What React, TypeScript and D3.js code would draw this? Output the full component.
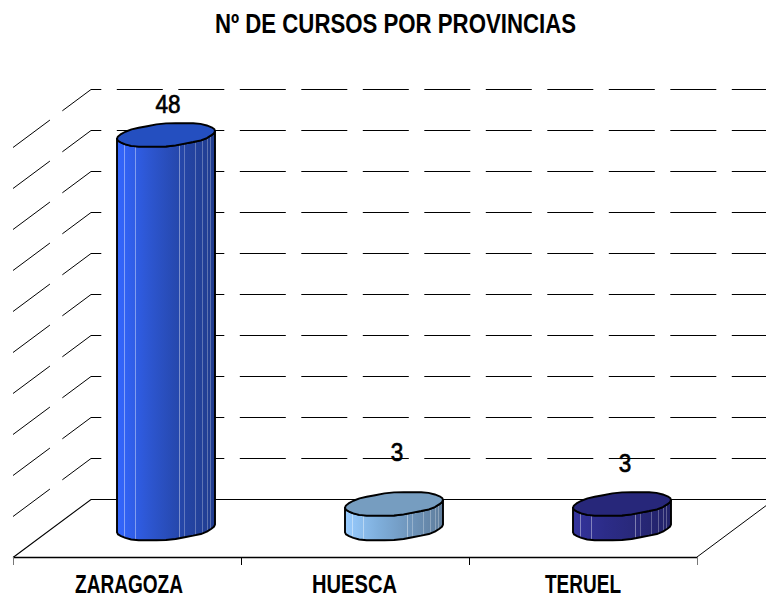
import React from "react";
import * as d3 from "d3";

const categories = ["ZARAGOZA", "HUESCA", "TERUEL"];
const values = [48, 3, 3];
const gridTicks = [0, 5, 10, 15, 20, 25, 30, 35, 40, 45, 50];
const title = "Nº DE CURSOS POR PROVINCIAS";
const sideColors = [
  ["#3366ff", "#2d56d0", "#2546a8", "#203c8e"],
  ["#99ccff", "#7fafdc", "#6f95bb", "#5f7d9c"],
  ["#34349c", "#2c2c88", "#282878", "#222268"],
];
const topColors = ["#244fc0", "#769dc0", "#27277a"];
const valueLabelPos = [{ dx: 2, base: 113 }, { dx: 3, base: 461 }, { dx: 3, base: 472 }];
const catLabelPos = [{ x: 129, w: 108 }, { x: 354.5, w: 85 }, { x: 583, w: 76 }];
const facetLines = [0.07, 0.18, 0.63, 0.68, 0.795, 0.865, 0.915, 0.95];
const wobble = [0, 0.004, 0.012, 0.004, -0.008, -0.004, 0.01, 0.006, -0.008, -0.006, 0.01, 0.004, -0.01, -0.004, 0.008, 0.004,
  0, -0.004, -0.012, -0.004, 0.008, 0.004, -0.01, -0.006, 0.008, 0.006, -0.01, -0.004, 0.01, 0.004, -0.008, -0.004];

const W = 766, H = 598;
const font = "'Liberation Sans', Arial, sans-serif";
const frontY = 557, depthX = 78, depthY = 58;
const x = d3.scaleBand<string>().domain(categories).range([13, 697]);
const y = d3.scaleLinear().domain([0, 50]).range([499.5, 89.5]);
const line = d3.line<[number, number]>();
const E = 49, S = 16, D = 12, R = Math.sqrt(E * E - S * S), t0 = Math.atan2(S, R), N = wobble.length;

function rim(cx: number, cy: number): [number, number][] {
  return wobble.map((w, i) => {
    const t = t0 + (i * 2 * Math.PI) / N;
    return [cx + (R * Math.cos(t) + S * Math.sin(t)) * (1 + w * 0.6), cy - D * Math.sin(t) + w * 28] as [number, number];
  });
}

function Bar({ i }: { i: number }) {
  const c = categories[i];
  const cx = (x(c) as number) + x.bandwidth() / 2 + depthX / 2;
  const base = y(0) + depthY / 2;
  const topY = y(values[i]) + depthY / 2;
  const topRim = rim(cx, topY);
  const botRim = rim(cx, base);
  const h = N / 2;
  const botFront = [...botRim.slice(h), botRim[0]];
  const topFront = [...topRim.slice(h), topRim[0]].reverse();
  const side = [...botFront, ...topFront];
  return (
    <g>
      <path d={(line(side) as string) + "Z"} fill={`url(#side${i})`} stroke="none" />
      {facetLines.map((f, k) => {
        const px = Math.round(cx - E + f * 2 * E) + 0.5;
        const th = 2 * Math.PI - Math.acos((px - cx) / E);
        const off = -D * Math.sin(th + t0);
        return <line key={k} x1={px} x2={px} y1={topY + off} y2={base + off} stroke="#ffffff"
          strokeOpacity={k <= 2 ? 0.4 : 0.28} strokeWidth={1} />;
      })}
      <path d={(line(side) as string) + "Z"} fill="none" stroke="#000" strokeWidth={1.9} strokeLinejoin="round" />
      <path d={(line(topRim) as string) + "Z"} fill={topColors[i]} stroke="#000" strokeWidth={1.9} strokeLinejoin="round" />
    </g>
  );
}

export default function App() {
  const [x0, x1] = x.range();
  const gridPath = (v: number) =>
    line([[x0, y(v) + depthY], [x0 + depthX, y(v)], [W, y(v)]]) as string;
  const step = x.step();
  return (
    <svg width={W} height={H} viewBox={`0 0 ${W} ${H}`}
      style={{ position: "absolute", left: 0, top: 0, display: "block", background: "#fff" }}>
      <defs>
        {sideColors.map((cols, i) => (
          <linearGradient key={i} id={`side${i}`} x1="0" x2="1" y1="0" y2="0">
            {cols.map((col, k) => <stop key={k} offset={k / (cols.length - 1)} stopColor={col} />)}
          </linearGradient>
        ))}
      </defs>
      <text x={395.5} y={32.5} textAnchor="middle" fontFamily={font} fontWeight={700} fontSize={27}
        textLength={361} lengthAdjust="spacingAndGlyphs" fill="#000">{title}</text>

      {gridTicks.filter((v) => v > 0).map((v) => (
        <path key={v} d={gridPath(v)} fill="none" stroke="#000" strokeWidth={1} strokeDasharray="46 15.5" />
      ))}
      <path d={gridPath(0)} fill="none" stroke="#000" strokeWidth={1.1} />
      <path d={line([[x1, frontY], [x1 + depthX, frontY - depthY]]) as string} fill="none" stroke="#000" strokeWidth={1} />
      <path d={line([[x0, frontY + 0.5], [x1, frontY + 0.5]]) as string} fill="none" stroke="#000" strokeWidth={1.4} />
      {d3.range(categories.length + 1).map((k) => (
        <line key={k} x1={x0 + k * step + 0.5} x2={x0 + k * step + 0.5} y1={frontY} y2={frontY + 8}
          stroke={k === 0 || k === categories.length ? "#777" : "#000"} strokeWidth={1} />
      ))}

      {categories.map((c, i) => <Bar key={c} i={i} />)}

      {values.map((v, i) => (
        <text key={i} x={(x(categories[i]) as number) + x.bandwidth() / 2 + depthX / 2 + valueLabelPos[i].dx}
          y={valueLabelPos[i].base} textAnchor="middle" fontFamily={font} fontSize={26} fontWeight={400}
          stroke="#000" strokeWidth={0.7} fill="#000" textLength={String(v).length * 12.5} lengthAdjust="spacingAndGlyphs">{v}</text>
      ))}
      {categories.map((c, i) => (
        <text key={c} x={catLabelPos[i].x} y={592.5} textAnchor="middle" fontFamily={font} fontWeight={700} fontSize={25}
          textLength={catLabelPos[i].w} lengthAdjust="spacingAndGlyphs" fill="#000">{c}</text>
      ))}
    </svg>
  );
}
